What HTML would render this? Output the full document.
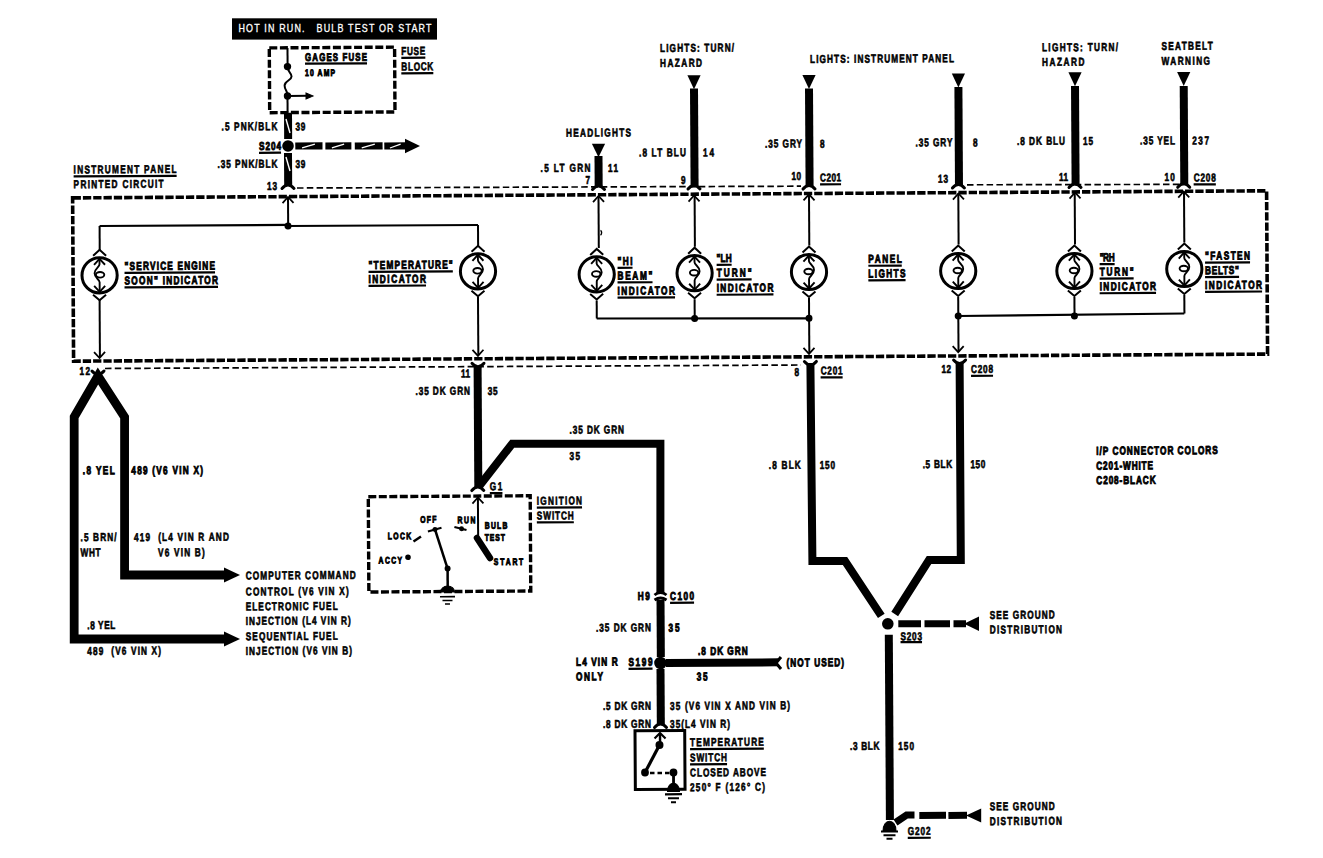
<!DOCTYPE html>
<html><head><meta charset="utf-8"><style>
html,body{margin:0;padding:0;background:#fff;}
svg{display:block;}
text{font-family:"Liberation Sans", sans-serif;white-space:pre;}
</style></head><body>
<svg width="1323" height="858" viewBox="0 0 1323 858">
<rect width="1323" height="858" fill="#fff"/>
<rect x="232" y="18.3" width="205" height="21.3" fill="#000"/><text transform="translate(238.5,32.4) scale(0.85,1)" x="0" y="0" font-size="10.5" fill="#fff" textLength="227" lengthAdjust="spacing" stroke="#fff" stroke-width="0.3">HOT IN RUN.   BULB TEST OR START</text>
<g transform="rotate(-0.34 661.5 429.0)" stroke="#000" fill="none">
<rect x="271.56" y="45.57" width="125.3" height="64.8" fill="none" stroke-width="3.4" stroke-dasharray="8 2.6"/>
<line x1="289.76" y1="45.68" x2="289.76" y2="64.38" stroke-width="2" stroke-linecap="butt" />
<line x1="289.48" y1="93.78" x2="289.48" y2="110.48" stroke-width="2" stroke-linecap="butt" />
<circle cx="289.65" cy="64.38" r="3.7" fill="#000" stroke="none"/>
<circle cx="289.48" cy="93.78" r="3.7" fill="#000" stroke="none"/>
<path transform="translate(289.65,64.38)" d="M0,0 C0,6 4,6 4,10 C4,14 -3,14 -3,19 C-3,24 0,24 0,29" fill="#fff" stroke-width="2" />
<line x1="289.65" y1="64.38" x2="289.65" y2="67.78" stroke-width="2" stroke-linecap="butt" />
<line x1="289.98" y1="93.78" x2="309.98" y2="93.78" stroke-width="2" stroke-linecap="butt" />
<path transform="translate(314.98,93.93)" d="M0,0 L-7,-3 L-7,3 Z" fill="#000" stroke-width="1" />
<text transform="translate(307.21,58.96) scale(0.72,1)" x="0" y="0" font-size="11" font-weight="bold" fill="#000" stroke="#000" stroke-width="0.9" textLength="86.11" lengthAdjust="spacing">GAGES FUSE</text>
<line x1="307.21" y1="61.56" x2="369.21" y2="61.56" stroke-width="2.2"/>
<text transform="translate(307.11,73.95) scale(0.72,1)" x="0" y="0" font-size="9.5" font-weight="bold" fill="#000" stroke="#000" stroke-width="0.9" textLength="41.67" lengthAdjust="spacing">10 AMP</text>
<text transform="translate(403.54,53.42) scale(0.72,1)" x="0" y="0" font-size="11.5" font-weight="bold" fill="#000" stroke="#000" stroke-width="0.6" textLength="33.33" lengthAdjust="spacing">FUSE</text>
<line x1="403.54" y1="56.32" x2="427.54" y2="56.32" stroke-width="2.2"/>
<text transform="translate(403.45,68.92) scale(0.72,1)" x="0" y="0" font-size="11.5" font-weight="bold" fill="#000" stroke="#000" stroke-width="0.6" textLength="44.44" lengthAdjust="spacing">BLOCK</text>
<line x1="403.45" y1="71.82" x2="435.45" y2="71.82" stroke-width="2.2"/>
<line x1="289.88" y1="110.48" x2="289.88" y2="136.78" stroke-width="8" stroke-linecap="butt" />
<circle cx="289.68" cy="143.78" r="5.8" fill="#000" stroke="none"/>
<line x1="289.64" y1="150.78" x2="289.64" y2="183.78" stroke-width="8" stroke-linecap="butt" />
<path transform="translate(289.44,183.28)" d="M-6,3 Q0,-4 6,3" fill="none" stroke-width="3" stroke-linecap="round"/>
<line x1="287.84" y1="116.77" x2="291.76" y2="130.8" stroke-width="1.4" stroke-linecap="butt" stroke="#fff"/>
<line x1="287.61" y1="154.77" x2="291.53" y2="168.8" stroke-width="1.4" stroke-linecap="butt" stroke="#fff"/>
<text transform="translate(223.3,127.85) scale(0.72,1)" x="0" y="0" font-size="11.5" font-weight="bold" fill="#000" stroke="#000" stroke-width="0.6" textLength="77.78" lengthAdjust="spacing">.5 PNK/BLK</text>
<text transform="translate(297.2,128.29) scale(0.72,1)" x="0" y="0" font-size="11.5" font-weight="bold" fill="#000" stroke="#000" stroke-width="0.6" textLength="13.89" lengthAdjust="spacing">39</text>
<text transform="translate(260.68,147.57) scale(0.72,1)" x="0" y="0" font-size="11.5" font-weight="bold" fill="#000" stroke="#000" stroke-width="0.9" textLength="30.56" lengthAdjust="spacing">S204</text>
<line x1="260.68" y1="150.47" x2="282.68" y2="150.47" stroke-width="2.2"/>
<text transform="translate(219.07,165.33) scale(0.72,1)" x="0" y="0" font-size="11.5" font-weight="bold" fill="#000" stroke="#000" stroke-width="0.6" textLength="83.33" lengthAdjust="spacing">.35 PNK/BLK</text>
<text transform="translate(296.97,165.79) scale(0.72,1)" x="0" y="0" font-size="11.5" font-weight="bold" fill="#000" stroke="#000" stroke-width="0.6" textLength="13.89" lengthAdjust="spacing">39</text>
<text transform="translate(268.44,187.62) scale(0.72,1)" x="0" y="0" font-size="11.5" font-weight="bold" fill="#000" stroke="#000" stroke-width="0.6" textLength="13.89" lengthAdjust="spacing">13</text>
<line x1="296.98" y1="143.83" x2="324.18" y2="143.83" stroke-width="7.2" stroke-linecap="butt" />
<line x1="303.77" y1="145.87" x2="316.57" y2="142.14" stroke-width="1.3" stroke-linecap="butt" stroke="#fff"/>
<line x1="327.08" y1="144.01" x2="353.08" y2="144.01" stroke-width="7.2" stroke-linecap="butt" />
<line x1="333.57" y1="146.04" x2="345.81" y2="142.32" stroke-width="1.3" stroke-linecap="butt" stroke="#fff"/>
<line x1="356.48" y1="144.18" x2="384.28" y2="144.18" stroke-width="7.2" stroke-linecap="butt" />
<line x1="363.42" y1="146.22" x2="376.51" y2="142.5" stroke-width="1.3" stroke-linecap="butt" stroke="#fff"/>
<line x1="385.98" y1="144.36" x2="408.68" y2="144.36" stroke-width="7.2" stroke-linecap="butt" />
<line x1="391.64" y1="146.39" x2="402.33" y2="142.65" stroke-width="1.3" stroke-linecap="butt" stroke="#fff"/>
<polygon points="406.72,137.28 421.68,144.57 406.64,151.68" fill="#000" stroke="none"/>
<line x1="298.43" y1="185.84" x2="802.44" y2="187.03" stroke-width="1.7" stroke-linecap="butt" stroke-dasharray="6.5 3.3"/>
<line x1="968.45" y1="186.61" x2="1185.45" y2="187.5" stroke-width="1.7" stroke-linecap="butt" stroke-dasharray="6.5 3.3"/>
<polygon points="593.59,143.29 606.79,143.37 600.11,156.83" fill="#000" stroke="none"/>
<line x1="600.12" y1="155.63" x2="600.12" y2="186.13" stroke-width="8" stroke-linecap="butt" />
<path transform="translate(599.94,186.13)" d="M-6,3 Q0,-4 6,3" fill="none" stroke-width="3" stroke-linecap="round"/>
<text transform="translate(567.76,136.19) scale(0.72,1)" x="0" y="0" font-size="11.5" font-weight="bold" fill="#000" stroke="#000" stroke-width="0.6" textLength="90.28" lengthAdjust="spacing">HEADLIGHTS</text>
<text transform="translate(542.05,171.24) scale(0.72,1)" x="0" y="0" font-size="11.5" font-weight="bold" fill="#000" stroke="#000" stroke-width="0.6" textLength="69.44" lengthAdjust="spacing">.5 LT GRN</text>
<text transform="translate(609.55,171.64) scale(0.72,1)" x="0" y="0" font-size="11.5" font-weight="bold" fill="#000" stroke="#000" stroke-width="0.6" textLength="13.89" lengthAdjust="spacing">11</text>
<text transform="translate(586.98,183.51) scale(0.72,1)" x="0" y="0" font-size="11.5" font-weight="bold" fill="#000" stroke="#000" stroke-width="0.6" textLength="6.94" lengthAdjust="spacing">7</text>
<polygon points="689.5,75.35 702.7,75.43 696.02,89.39" fill="#000" stroke="none"/>
<line x1="696.02" y1="88.69" x2="696.02" y2="186.19" stroke-width="8" stroke-linecap="butt" />
<path transform="translate(695.44,186.19)" d="M-6,3 Q0,-4 6,3" fill="none" stroke-width="3" stroke-linecap="round"/>
<text transform="translate(662.26,51.95) scale(0.72,1)" x="0" y="0" font-size="11.5" font-weight="bold" fill="#000" stroke="#000" stroke-width="0.6" textLength="102.78" lengthAdjust="spacing">LIGHTS: TURN/</text>
<text transform="translate(662.17,66.95) scale(0.72,1)" x="0" y="0" font-size="11.5" font-weight="bold" fill="#000" stroke="#000" stroke-width="0.6" textLength="58.33" lengthAdjust="spacing">HAZARD</text>
<text transform="translate(640.64,156.43) scale(0.72,1)" x="0" y="0" font-size="11.5" font-weight="bold" fill="#000" stroke="#000" stroke-width="0.6" textLength="65.28" lengthAdjust="spacing">.8 LT BLU</text>
<text transform="translate(704.64,156.81) scale(0.72,1)" x="0" y="0" font-size="11.5" font-weight="bold" fill="#000" stroke="#000" stroke-width="0.6" textLength="15.28" lengthAdjust="spacing">14</text>
<text transform="translate(682.48,184.08) scale(0.72,1)" x="0" y="0" font-size="11.5" font-weight="bold" fill="#000" stroke="#000" stroke-width="0.6" textLength="6.94" lengthAdjust="spacing">9</text>
<polygon points="804.5,75.84 817.7,75.91 811.02,89.88" fill="#000" stroke="none"/>
<line x1="811.02" y1="89.38" x2="811.02" y2="186.88" stroke-width="8" stroke-linecap="butt" />
<path transform="translate(810.44,186.88)" d="M-6,3 Q0,-4 6,3" fill="none" stroke-width="3" stroke-linecap="round"/>
<text transform="translate(812.2,63.84) scale(0.72,1)" x="0" y="0" font-size="11.5" font-weight="bold" fill="#000" stroke="#000" stroke-width="0.6" textLength="200" lengthAdjust="spacing">LIGHTS: INSTRUMENT PANEL</text>
<text transform="translate(766.69,148.27) scale(0.72,1)" x="0" y="0" font-size="11.5" font-weight="bold" fill="#000" stroke="#000" stroke-width="0.6" textLength="51.39" lengthAdjust="spacing">.35 GRY</text>
<text transform="translate(821.69,148.6) scale(0.72,1)" x="0" y="0" font-size="11.5" font-weight="bold" fill="#000" stroke="#000" stroke-width="0.6" textLength="6.94" lengthAdjust="spacing">8</text>
<text transform="translate(793,180.73) scale(0.72,1)" x="0" y="0" font-size="11.5" font-weight="bold" fill="#000" stroke="#000" stroke-width="0.6" textLength="13.19" lengthAdjust="spacing">10</text>
<text transform="translate(821.49,182.4) scale(0.72,1)" x="0" y="0" font-size="11.5" font-weight="bold" fill="#000" stroke="#000" stroke-width="0.6" textLength="29.17" lengthAdjust="spacing">C201</text>
<line x1="821.49" y1="185.3" x2="842.49" y2="185.3" stroke-width="2.2"/>
<polygon points="953.91,75.22 967.11,75.3 960.43,89.26" fill="#000" stroke="none"/>
<line x1="960.43" y1="88.76" x2="960.43" y2="186.76" stroke-width="8" stroke-linecap="butt" />
<path transform="translate(959.85,186.76)" d="M-6,3 Q0,-4 6,3" fill="none" stroke-width="3" stroke-linecap="round"/>
<text transform="translate(917.1,147.97) scale(0.72,1)" x="0" y="0" font-size="11.5" font-weight="bold" fill="#000" stroke="#000" stroke-width="0.6" textLength="51.39" lengthAdjust="spacing">.35 GRY</text>
<text transform="translate(974.7,148.31) scale(0.72,1)" x="0" y="0" font-size="11.5" font-weight="bold" fill="#000" stroke="#000" stroke-width="0.6" textLength="6.94" lengthAdjust="spacing">8</text>
<text transform="translate(939.48,184.4) scale(0.72,1)" x="0" y="0" font-size="11.5" font-weight="bold" fill="#000" stroke="#000" stroke-width="0.6" textLength="13.89" lengthAdjust="spacing">13</text>
<polygon points="1070.52,74.71 1083.72,74.79 1077.03,88.75" fill="#000" stroke="none"/>
<line x1="1077.04" y1="88.45" x2="1077.04" y2="186.95" stroke-width="8" stroke-linecap="butt" />
<path transform="translate(1076.45,186.95)" d="M-6,3 Q0,-4 6,3" fill="none" stroke-width="3" stroke-linecap="round"/>
<text transform="translate(1044.26,53.62) scale(0.72,1)" x="0" y="0" font-size="11.5" font-weight="bold" fill="#000" stroke="#000" stroke-width="0.6" textLength="105.56" lengthAdjust="spacing">LIGHTS: TURN/</text>
<text transform="translate(1044.18,68.22) scale(0.72,1)" x="0" y="0" font-size="11.5" font-weight="bold" fill="#000" stroke="#000" stroke-width="0.6" textLength="59.03" lengthAdjust="spacing">HAZARD</text>
<text transform="translate(1018.71,147.07) scale(0.72,1)" x="0" y="0" font-size="11.5" font-weight="bold" fill="#000" stroke="#000" stroke-width="0.6" textLength="66.67" lengthAdjust="spacing">.8 DK BLU</text>
<text transform="translate(1084.71,147.46) scale(0.72,1)" x="0" y="0" font-size="11.5" font-weight="bold" fill="#000" stroke="#000" stroke-width="0.6" textLength="13.89" lengthAdjust="spacing">15</text>
<text transform="translate(1060.5,183.32) scale(0.72,1)" x="0" y="0" font-size="11.5" font-weight="bold" fill="#000" stroke="#000" stroke-width="0.6" textLength="12.5" lengthAdjust="spacing">11</text>
<polygon points="1179.22,75.16 1192.42,75.24 1185.73,89.2" fill="#000" stroke="none"/>
<line x1="1185.74" y1="89.1" x2="1185.74" y2="187.4" stroke-width="8" stroke-linecap="butt" />
<path transform="translate(1185.15,187.4)" d="M-6,3 Q0,-4 6,3" fill="none" stroke-width="3" stroke-linecap="round"/>
<text transform="translate(1163.77,52.93) scale(0.72,1)" x="0" y="0" font-size="11.5" font-weight="bold" fill="#000" stroke="#000" stroke-width="0.6" textLength="71.25" lengthAdjust="spacing">SEATBELT</text>
<text transform="translate(1163.68,67.93) scale(0.72,1)" x="0" y="0" font-size="11.5" font-weight="bold" fill="#000" stroke="#000" stroke-width="0.6" textLength="67.36" lengthAdjust="spacing">WARNING</text>
<text transform="translate(1141.71,147.4) scale(0.72,1)" x="0" y="0" font-size="11.5" font-weight="bold" fill="#000" stroke="#000" stroke-width="0.6" textLength="48.61" lengthAdjust="spacing">.35 YEL</text>
<text transform="translate(1194.01,147.71) scale(0.72,1)" x="0" y="0" font-size="11.5" font-weight="bold" fill="#000" stroke="#000" stroke-width="0.6" textLength="23.19" lengthAdjust="spacing">237</text>
<text transform="translate(1166,183.94) scale(0.72,1)" x="0" y="0" font-size="11.5" font-weight="bold" fill="#000" stroke="#000" stroke-width="0.6" textLength="14.31" lengthAdjust="spacing">10</text>
<text transform="translate(1195.09,184.72) scale(0.72,1)" x="0" y="0" font-size="11.5" font-weight="bold" fill="#000" stroke="#000" stroke-width="0.6" textLength="30.83" lengthAdjust="spacing">C208</text>
<line x1="1195.09" y1="187.62" x2="1217.29" y2="187.62" stroke-width="2.2"/>
<rect x="74" y="194.4" width="1194" height="163.3" fill="none" stroke-width="3.6" stroke-dasharray="8.3 2"/>
<text transform="translate(75.14,170.07) scale(0.72,1)" x="0" y="0" font-size="11.5" font-weight="bold" fill="#000" stroke="#000" stroke-width="0.6" textLength="143.06" lengthAdjust="spacing">INSTRUMENT PANEL</text>
<line x1="75.14" y1="172.97" x2="178.14" y2="172.97" stroke-width="2.2"/>
<text transform="translate(75.05,184.77) scale(0.72,1)" x="0" y="0" font-size="11.5" font-weight="bold" fill="#000" stroke="#000" stroke-width="0.6" textLength="125" lengthAdjust="spacing">PRINTED CIRCUIT</text>
<path transform="translate(289.38,194.78)" d="M-5.5,6 L0,0 L5.5,6" fill="none" stroke-width="1.8" />
<path transform="translate(599.88,195.63)" d="M-5.5,6 L0,0 L5.5,6" fill="none" stroke-width="1.8" />
<path transform="translate(695.39,195.69)" d="M-5.5,6 L0,0 L5.5,6" fill="none" stroke-width="1.8" />
<path transform="translate(810.39,195.18)" d="M-5.5,6 L0,0 L5.5,6" fill="none" stroke-width="1.8" />
<path transform="translate(959.8,195.26)" d="M-5.5,6 L0,0 L5.5,6" fill="none" stroke-width="1.8" />
<path transform="translate(1076.4,194.95)" d="M-5.5,6 L0,0 L5.5,6" fill="none" stroke-width="1.8" />
<path transform="translate(1185.11,194.6)" d="M-5.5,6 L0,0 L5.5,6" fill="none" stroke-width="1.8" />
<circle cx="100.51" cy="271.97" r="17.6" fill="none" stroke-width="3.0"/>
<path transform="translate(100.51,271.97)" d="M0,-16 L0,-11 C0,-8 -5,-7 -5,-2 C-5,3 0,4 0,7 L0,16" fill="none" stroke-width="1.9" />
<path transform="translate(100.51,271.97)" d="M0.5,-0.5 m-4.2,0 a4.2,2.8 0 1,0 8.4,0 a4.2,2.8 0 1,0 -8.4,0" fill="none" stroke-width="1.9" />
<path transform="translate(100.51,271.97)" d="M-5.5,-10.5 L0,-16.5 L5.5,-10.5" fill="none" stroke-width="1.9" />
<path transform="translate(100.51,271.97)" d="M-5.5,10.5 L0,16.5 L5.5,10.5" fill="none" stroke-width="1.9" />
<path transform="translate(100.66,246.47)" d="M-6.5,6 L0,0 L6.5,6" fill="none" stroke-width="2" />
<path transform="translate(100.36,296.97)" d="M-6.5,-5.5 L0,0 L6.5,-5.5" fill="none" stroke-width="2" />
<circle cx="478.94" cy="270.21" r="17.6" fill="none" stroke-width="3.0"/>
<path transform="translate(478.94,270.21)" d="M0,-16 L0,-11 C0,-8 5,-7 5,-2 C5,3 0,4 0,7 L0,16" fill="none" stroke-width="1.9" />
<path transform="translate(478.94,270.21)" d="M-0.5,-0.5 m-4.2,0 a4.2,2.8 0 1,0 8.4,0 a4.2,2.8 0 1,0 -8.4,0" fill="none" stroke-width="1.9" />
<path transform="translate(478.94,270.21)" d="M-5.5,-10.5 L0,-16.5 L5.5,-10.5" fill="none" stroke-width="1.9" />
<path transform="translate(478.94,270.21)" d="M-5.5,10.5 L0,16.5 L5.5,10.5" fill="none" stroke-width="1.9" />
<path transform="translate(479.09,244.71)" d="M-6.5,6 L0,0 L6.5,6" fill="none" stroke-width="2" />
<path transform="translate(478.79,295.21)" d="M-6.5,-5.5 L0,0 L6.5,-5.5" fill="none" stroke-width="2" />
<circle cx="597.62" cy="274.02" r="17.6" fill="none" stroke-width="3.0"/>
<path transform="translate(597.62,274.02)" d="M0,-16 L0,-11 C0,-8 5,-7 5,-2 C5,3 0,4 0,7 L0,16" fill="none" stroke-width="1.9" />
<path transform="translate(597.62,274.02)" d="M-0.5,-0.5 m-4.2,0 a4.2,2.8 0 1,0 8.4,0 a4.2,2.8 0 1,0 -8.4,0" fill="none" stroke-width="1.9" />
<path transform="translate(597.62,274.02)" d="M-5.5,-10.5 L0,-16.5 L5.5,-10.5" fill="none" stroke-width="1.9" />
<path transform="translate(597.62,274.02)" d="M-5.5,10.5 L0,16.5 L5.5,10.5" fill="none" stroke-width="1.9" />
<path transform="translate(597.77,248.52)" d="M-6.5,6 L0,0 L6.5,6" fill="none" stroke-width="2" />
<path transform="translate(597.47,299.02)" d="M-6.5,-5.5 L0,0 L6.5,-5.5" fill="none" stroke-width="2" />
<circle cx="695.52" cy="273.4" r="17.6" fill="none" stroke-width="3.0"/>
<path transform="translate(695.52,273.4)" d="M0,-16 L0,-11 C0,-8 5,-7 5,-2 C5,3 0,4 0,7 L0,16" fill="none" stroke-width="1.9" />
<path transform="translate(695.52,273.4)" d="M-0.5,-0.5 m-4.2,0 a4.2,2.8 0 1,0 8.4,0 a4.2,2.8 0 1,0 -8.4,0" fill="none" stroke-width="1.9" />
<path transform="translate(695.52,273.4)" d="M-5.5,-10.5 L0,-16.5 L5.5,-10.5" fill="none" stroke-width="1.9" />
<path transform="translate(695.52,273.4)" d="M-5.5,10.5 L0,16.5 L5.5,10.5" fill="none" stroke-width="1.9" />
<path transform="translate(695.68,247.9)" d="M-6.5,6 L0,0 L6.5,6" fill="none" stroke-width="2" />
<path transform="translate(695.38,298.4)" d="M-6.5,-5.5 L0,0 L6.5,-5.5" fill="none" stroke-width="2" />
<circle cx="809.93" cy="272.88" r="17.6" fill="none" stroke-width="3.0"/>
<path transform="translate(809.93,272.88)" d="M0,-16 L0,-11 C0,-8 5,-7 5,-2 C5,3 0,4 0,7 L0,16" fill="none" stroke-width="1.9" />
<path transform="translate(809.93,272.88)" d="M-0.5,-0.5 m-4.2,0 a4.2,2.8 0 1,0 8.4,0 a4.2,2.8 0 1,0 -8.4,0" fill="none" stroke-width="1.9" />
<path transform="translate(809.93,272.88)" d="M-5.5,-10.5 L0,-16.5 L5.5,-10.5" fill="none" stroke-width="1.9" />
<path transform="translate(809.93,272.88)" d="M-5.5,10.5 L0,16.5 L5.5,10.5" fill="none" stroke-width="1.9" />
<path transform="translate(810.08,247.38)" d="M-6.5,6 L0,0 L6.5,6" fill="none" stroke-width="2" />
<path transform="translate(809.78,297.88)" d="M-6.5,-5.5 L0,0 L6.5,-5.5" fill="none" stroke-width="2" />
<circle cx="959.14" cy="272.76" r="17.6" fill="none" stroke-width="3.0"/>
<path transform="translate(959.14,272.76)" d="M0,-16 L0,-11 C0,-8 5,-7 5,-2 C5,3 0,4 0,7 L0,16" fill="none" stroke-width="1.9" />
<path transform="translate(959.14,272.76)" d="M-0.5,-0.5 m-4.2,0 a4.2,2.8 0 1,0 8.4,0 a4.2,2.8 0 1,0 -8.4,0" fill="none" stroke-width="1.9" />
<path transform="translate(959.14,272.76)" d="M-5.5,-10.5 L0,-16.5 L5.5,-10.5" fill="none" stroke-width="1.9" />
<path transform="translate(959.14,272.76)" d="M-5.5,10.5 L0,16.5 L5.5,10.5" fill="none" stroke-width="1.9" />
<path transform="translate(959.29,247.26)" d="M-6.5,6 L0,0 L6.5,6" fill="none" stroke-width="2" />
<path transform="translate(958.99,297.76)" d="M-6.5,-5.5 L0,0 L6.5,-5.5" fill="none" stroke-width="2" />
<circle cx="1075.34" cy="273.45" r="17.6" fill="none" stroke-width="3.0"/>
<path transform="translate(1075.34,273.45)" d="M0,-16 L0,-11 C0,-8 5,-7 5,-2 C5,3 0,4 0,7 L0,16" fill="none" stroke-width="1.9" />
<path transform="translate(1075.34,273.45)" d="M-0.5,-0.5 m-4.2,0 a4.2,2.8 0 1,0 8.4,0 a4.2,2.8 0 1,0 -8.4,0" fill="none" stroke-width="1.9" />
<path transform="translate(1075.34,273.45)" d="M-5.5,-10.5 L0,-16.5 L5.5,-10.5" fill="none" stroke-width="1.9" />
<path transform="translate(1075.34,273.45)" d="M-5.5,10.5 L0,16.5 L5.5,10.5" fill="none" stroke-width="1.9" />
<path transform="translate(1075.49,247.95)" d="M-6.5,6 L0,0 L6.5,6" fill="none" stroke-width="2" />
<path transform="translate(1075.19,298.45)" d="M-6.5,-5.5 L0,0 L6.5,-5.5" fill="none" stroke-width="2" />
<circle cx="1185.25" cy="272.1" r="17.6" fill="none" stroke-width="3.0"/>
<path transform="translate(1185.25,272.1)" d="M0,-16 L0,-11 C0,-8 5,-7 5,-2 C5,3 0,4 0,7 L0,16" fill="none" stroke-width="1.9" />
<path transform="translate(1185.25,272.1)" d="M-0.5,-0.5 m-4.2,0 a4.2,2.8 0 1,0 8.4,0 a4.2,2.8 0 1,0 -8.4,0" fill="none" stroke-width="1.9" />
<path transform="translate(1185.25,272.1)" d="M-5.5,-10.5 L0,-16.5 L5.5,-10.5" fill="none" stroke-width="1.9" />
<path transform="translate(1185.25,272.1)" d="M-5.5,10.5 L0,16.5 L5.5,10.5" fill="none" stroke-width="1.9" />
<path transform="translate(1185.4,246.6)" d="M-6.5,6 L0,0 L6.5,6" fill="none" stroke-width="2" />
<path transform="translate(1185.1,297.1)" d="M-6.5,-5.5 L0,0 L6.5,-5.5" fill="none" stroke-width="2" />
<line x1="100.8" y1="222.67" x2="289.2" y2="222.67" stroke-width="2.2" stroke-linecap="butt" />
<line x1="289.2" y1="223.78" x2="479.21" y2="223.91" stroke-width="2.2" stroke-linecap="butt" />
<circle cx="289.2" cy="223.78" r="3.5" fill="#000" stroke="none"/>
<line x1="289.38" y1="194.78" x2="289.38" y2="223.78" stroke-width="2" stroke-linecap="butt" />
<line x1="100.8" y1="222.67" x2="100.8" y2="246.67" stroke-width="2" stroke-linecap="butt" />
<line x1="479.21" y1="223.91" x2="479.21" y2="245.91" stroke-width="2" stroke-linecap="butt" />
<line x1="100.37" y1="296.67" x2="100.37" y2="353.67" stroke-width="2" stroke-linecap="butt" />
<path transform="translate(100.02,354.67)" d="M-5.5,-6 L0,0 L5.5,-6" fill="none" stroke-width="1.8" />
<line x1="478.78" y1="295.91" x2="478.78" y2="353.91" stroke-width="2" stroke-linecap="butt" />
<path transform="translate(478.43,354.71)" d="M-5.5,-6 L0,0 L5.5,-6" fill="none" stroke-width="1.8" />
<line x1="599.88" y1="195.63" x2="599.88" y2="247.53" stroke-width="2" stroke-linecap="butt" />
<line x1="695.99" y1="195.7" x2="695.99" y2="246.9" stroke-width="2" stroke-linecap="butt" />
<line x1="810.39" y1="195.18" x2="810.39" y2="246.38" stroke-width="2" stroke-linecap="butt" />
<line x1="959.7" y1="195.26" x2="959.7" y2="246.26" stroke-width="2" stroke-linecap="butt" />
<line x1="1076.1" y1="194.95" x2="1076.1" y2="246.95" stroke-width="2" stroke-linecap="butt" />
<line x1="1185.41" y1="194.6" x2="1185.41" y2="245.6" stroke-width="2" stroke-linecap="butt" />
<line x1="597.46" y1="300.02" x2="597.46" y2="318.12" stroke-width="2" stroke-linecap="butt" />
<line x1="597.36" y1="318.12" x2="809.66" y2="319.18" stroke-width="2.2" stroke-linecap="butt" />
<line x1="695.37" y1="299.4" x2="695.37" y2="318.7" stroke-width="2" stroke-linecap="butt" />
<circle cx="695.26" cy="318.7" r="3.5" fill="#000" stroke="none"/>
<line x1="809.78" y1="298.88" x2="809.78" y2="353.88" stroke-width="2" stroke-linecap="butt" />
<circle cx="809.66" cy="319.18" r="3.5" fill="#000" stroke="none"/>
<path transform="translate(809.45,354.68)" d="M-5.5,-6 L0,0 L5.5,-6" fill="none" stroke-width="1.8" />
<line x1="958.98" y1="298.76" x2="958.98" y2="353.26" stroke-width="2" stroke-linecap="butt" />
<circle cx="958.87" cy="317.76" r="3.5" fill="#000" stroke="none"/>
<path transform="translate(958.66,353.96)" d="M-5.5,-6 L0,0 L5.5,-6" fill="none" stroke-width="1.8" />
<line x1="1075.18" y1="299.45" x2="1075.18" y2="318.45" stroke-width="2" stroke-linecap="butt" />
<circle cx="1075.07" cy="318.45" r="3.5" fill="#000" stroke="none"/>
<line x1="1185.1" y1="298.1" x2="1185.1" y2="316.6" stroke-width="2" stroke-linecap="butt" />
<line x1="958.87" y1="317.76" x2="1184.99" y2="316.6" stroke-width="2.2" stroke-linecap="butt" />
<path transform="translate(601.66,232.44)" d="M0,-2.5 C1.8,-1.5 1.2,1.5 0,2.5" fill="none" stroke-width="1.4" />
<text transform="translate(125.47,266.77) scale(0.72,1)" x="0" y="0" font-size="11.5" font-weight="bold" fill="#000" stroke="#000" stroke-width="0.9" textLength="125.69" lengthAdjust="spacing">"SERVICE ENGINE</text>
<line x1="125.47" y1="269.67" x2="215.97" y2="269.67" stroke-width="2.2"/>
<text transform="translate(125.38,281.27) scale(0.72,1)" x="0" y="0" font-size="11.5" font-weight="bold" fill="#000" stroke="#000" stroke-width="0.9" textLength="129.86" lengthAdjust="spacing">SOON" INDICATOR</text>
<line x1="125.38" y1="284.17" x2="218.88" y2="284.17" stroke-width="2.2"/>
<text transform="translate(369.47,267.22) scale(0.72,1)" x="0" y="0" font-size="11.5" font-weight="bold" fill="#000" stroke="#000" stroke-width="0.9" textLength="117.08" lengthAdjust="spacing">"TEMPERATURE"</text>
<line x1="369.47" y1="270.12" x2="453.77" y2="270.12" stroke-width="2.2"/>
<text transform="translate(369.39,281.22) scale(0.72,1)" x="0" y="0" font-size="11.5" font-weight="bold" fill="#000" stroke="#000" stroke-width="0.9" textLength="79.86" lengthAdjust="spacing">INDICATOR</text>
<line x1="369.39" y1="284.12" x2="426.89" y2="284.12" stroke-width="2.2"/>
<text transform="translate(618.5,264.7) scale(0.72,1)" x="0" y="0" font-size="11.5" font-weight="bold" fill="#000" stroke="#000" stroke-width="0.9" textLength="20.83" lengthAdjust="spacing">"HI</text>
<line x1="618.5" y1="267.6" x2="633.5" y2="267.6" stroke-width="2.2"/>
<text transform="translate(618.41,279.3) scale(0.72,1)" x="0" y="0" font-size="11.5" font-weight="bold" fill="#000" stroke="#000" stroke-width="0.9" textLength="48.61" lengthAdjust="spacing">BEAM"</text>
<line x1="618.41" y1="282.2" x2="653.41" y2="282.2" stroke-width="2.2"/>
<text transform="translate(618.32,294.5) scale(0.72,1)" x="0" y="0" font-size="11.5" font-weight="bold" fill="#000" stroke="#000" stroke-width="0.9" textLength="79.86" lengthAdjust="spacing">INDICATOR</text>
<line x1="618.32" y1="297.4" x2="675.82" y2="297.4" stroke-width="2.2"/>
<text transform="translate(717.61,262.29) scale(0.72,1)" x="0" y="0" font-size="11.5" font-weight="bold" fill="#000" stroke="#000" stroke-width="0.9" textLength="20.83" lengthAdjust="spacing">"LH</text>
<line x1="717.61" y1="265.19" x2="732.61" y2="265.19" stroke-width="2.2"/>
<text transform="translate(717.53,276.99) scale(0.72,1)" x="0" y="0" font-size="11.5" font-weight="bold" fill="#000" stroke="#000" stroke-width="0.9" textLength="48.61" lengthAdjust="spacing">TURN"</text>
<line x1="717.53" y1="279.89" x2="752.53" y2="279.89" stroke-width="2.2"/>
<text transform="translate(717.44,292.19) scale(0.72,1)" x="0" y="0" font-size="11.5" font-weight="bold" fill="#000" stroke="#000" stroke-width="0.9" textLength="78.89" lengthAdjust="spacing">INDICATOR</text>
<line x1="717.44" y1="295.09" x2="774.24" y2="295.09" stroke-width="2.2"/>
<text transform="translate(869.31,264.09) scale(0.72,1)" x="0" y="0" font-size="11.5" font-weight="bold" fill="#000" stroke="#000" stroke-width="0.9" textLength="46.39" lengthAdjust="spacing">PANEL</text>
<line x1="869.31" y1="266.99" x2="902.71" y2="266.99" stroke-width="2.2"/>
<text transform="translate(869.22,278.69) scale(0.72,1)" x="0" y="0" font-size="11.5" font-weight="bold" fill="#000" stroke="#000" stroke-width="0.9" textLength="51.67" lengthAdjust="spacing">LIGHTS</text>
<line x1="869.22" y1="281.59" x2="906.42" y2="281.59" stroke-width="2.2"/>
<text transform="translate(1100.62,263.86) scale(0.72,1)" x="0" y="0" font-size="11.5" font-weight="bold" fill="#000" stroke="#000" stroke-width="0.9" textLength="20.83" lengthAdjust="spacing">"RH</text>
<line x1="1100.62" y1="266.76" x2="1115.62" y2="266.76" stroke-width="2.2"/>
<text transform="translate(1100.53,278.26) scale(0.72,1)" x="0" y="0" font-size="11.5" font-weight="bold" fill="#000" stroke="#000" stroke-width="0.9" textLength="47.22" lengthAdjust="spacing">TURN"</text>
<line x1="1100.53" y1="281.16" x2="1134.53" y2="281.16" stroke-width="2.2"/>
<text transform="translate(1100.45,292.96) scale(0.72,1)" x="0" y="0" font-size="11.5" font-weight="bold" fill="#000" stroke="#000" stroke-width="0.9" textLength="78.33" lengthAdjust="spacing">INDICATOR</text>
<line x1="1100.45" y1="295.86" x2="1156.85" y2="295.86" stroke-width="2.2"/>
<text transform="translate(1206.03,262.89) scale(0.72,1)" x="0" y="0" font-size="11.5" font-weight="bold" fill="#000" stroke="#000" stroke-width="0.9" textLength="62.5" lengthAdjust="spacing">"FASTEN</text>
<line x1="1206.03" y1="265.79" x2="1251.03" y2="265.79" stroke-width="2.2"/>
<text transform="translate(1205.94,277.49) scale(0.72,1)" x="0" y="0" font-size="11.5" font-weight="bold" fill="#000" stroke="#000" stroke-width="0.9" textLength="47.22" lengthAdjust="spacing">BELTS"</text>
<line x1="1205.94" y1="280.39" x2="1239.94" y2="280.39" stroke-width="2.2"/>
<text transform="translate(1205.85,292.19) scale(0.72,1)" x="0" y="0" font-size="11.5" font-weight="bold" fill="#000" stroke="#000" stroke-width="0.9" textLength="79.17" lengthAdjust="spacing">INDICATOR</text>
<line x1="1205.85" y1="295.09" x2="1262.85" y2="295.09" stroke-width="2.2"/>
<line x1="105.36" y1="365.2" x2="801.38" y2="365.83" stroke-width="1.7" stroke-linecap="butt" stroke-dasharray="6.5 3.3"/>
<text transform="translate(79.84,371.51) scale(0.72,1)" x="0" y="0" font-size="11.5" font-weight="bold" fill="#000" stroke="#000" stroke-width="0.6" textLength="14.58" lengthAdjust="spacing">12</text>
<text transform="translate(461.33,376.37) scale(0.72,1)" x="0" y="0" font-size="11.5" font-weight="bold" fill="#000" stroke="#000" stroke-width="0.6" textLength="12.5" lengthAdjust="spacing">11</text>
<text transform="translate(794.84,376.75) scale(0.72,1)" x="0" y="0" font-size="11.5" font-weight="bold" fill="#000" stroke="#000" stroke-width="0.6" textLength="6.25" lengthAdjust="spacing">8</text>
<text transform="translate(820.95,375.5) scale(0.72,1)" x="0" y="0" font-size="11.5" font-weight="bold" fill="#000" stroke="#000" stroke-width="0.6" textLength="30.56" lengthAdjust="spacing">C201</text>
<line x1="820.95" y1="378.4" x2="842.95" y2="378.4" stroke-width="2.2"/>
<text transform="translate(941.86,374.62) scale(0.72,1)" x="0" y="0" font-size="11.5" font-weight="bold" fill="#000" stroke="#000" stroke-width="0.6" textLength="13.19" lengthAdjust="spacing">12</text>
<text transform="translate(971.36,374.8) scale(0.72,1)" x="0" y="0" font-size="11.5" font-weight="bold" fill="#000" stroke="#000" stroke-width="0.6" textLength="30.56" lengthAdjust="spacing">C208</text>
<line x1="971.36" y1="377.7" x2="993.36" y2="377.7" stroke-width="2.2"/>
<polyline points="223.75,636.41 72.95,635.51 74.27,413.51 98.31,372.66 124.67,413.81 123.73,571.81 224.13,572.41" fill="none" stroke-width="8.8" stroke-linejoin="miter" stroke-linecap="butt" />
<polygon points="222.8,628.9 238.75,636.5 222.71,643.9" fill="#000" stroke="none"/>
<polygon points="223.18,564.9 239.13,572.5 223.09,579.9" fill="#000" stroke="none"/>
<path transform="translate(98.33,370.66)" d="M-6,-3 Q0,4 6,-3" fill="none" stroke-width="3" stroke-linecap="round"/>
<text transform="translate(82.55,470.93) scale(0.72,1)" x="0" y="0" font-size="11.5" font-weight="bold" fill="#000" stroke="#000" stroke-width="0.9" textLength="44.44" lengthAdjust="spacing">.8 YEL</text>
<text transform="translate(131.05,471.21) scale(0.72,1)" x="0" y="0" font-size="11.5" font-weight="bold" fill="#000" stroke="#000" stroke-width="0.9" textLength="99.44" lengthAdjust="spacing">489 (V6 VIN X)</text>
<text transform="translate(79.96,537.71) scale(0.72,1)" x="0" y="0" font-size="11.5" font-weight="bold" fill="#000" stroke="#000" stroke-width="0.6" textLength="50" lengthAdjust="spacing">.5 BRN/</text>
<text transform="translate(79.87,553.01) scale(0.72,1)" x="0" y="0" font-size="11.5" font-weight="bold" fill="#000" stroke="#000" stroke-width="0.6" textLength="27.78" lengthAdjust="spacing">WHT</text>
<text transform="translate(133.26,538.03) scale(0.72,1)" x="0" y="0" font-size="11.5" font-weight="bold" fill="#000" stroke="#000" stroke-width="0.6" textLength="131.94" lengthAdjust="spacing">419  (L4 VIN R AND</text>
<text transform="translate(157.27,553.47) scale(0.72,1)" x="0" y="0" font-size="11.5" font-weight="bold" fill="#000" stroke="#000" stroke-width="0.6" textLength="64.86" lengthAdjust="spacing">V6 VIN B)</text>
<text transform="translate(244.83,577.09) scale(0.72,1)" x="0" y="0" font-size="11.5" font-weight="bold" fill="#000" stroke="#000" stroke-width="0.6" textLength="152.78" lengthAdjust="spacing">COMPUTER COMMAND</text>
<text transform="translate(244.74,593.09) scale(0.72,1)" x="0" y="0" font-size="11.5" font-weight="bold" fill="#000" stroke="#000" stroke-width="0.6" textLength="143.06" lengthAdjust="spacing">CONTROL (V6 VIN X)</text>
<text transform="translate(244.65,607.99) scale(0.72,1)" x="0" y="0" font-size="11.5" font-weight="bold" fill="#000" stroke="#000" stroke-width="0.6" textLength="127.78" lengthAdjust="spacing">ELECTRONIC FUEL</text>
<text transform="translate(244.56,622.49) scale(0.72,1)" x="0" y="0" font-size="11.5" font-weight="bold" fill="#000" stroke="#000" stroke-width="0.6" textLength="145.83" lengthAdjust="spacing">INJECTION (L4 VIN R)</text>
<text transform="translate(244.47,637.89) scale(0.72,1)" x="0" y="0" font-size="11.5" font-weight="bold" fill="#000" stroke="#000" stroke-width="0.6" textLength="127.78" lengthAdjust="spacing">SEQUENTIAL FUEL</text>
<text transform="translate(244.38,652.49) scale(0.72,1)" x="0" y="0" font-size="11.5" font-weight="bold" fill="#000" stroke="#000" stroke-width="0.6" textLength="147.64" lengthAdjust="spacing">INJECTION (V6 VIN B)</text>
<text transform="translate(86.14,625.75) scale(0.72,1)" x="0" y="0" font-size="11.5" font-weight="bold" fill="#000" stroke="#000" stroke-width="0.6" textLength="38.89" lengthAdjust="spacing">.8 YEL</text>
<text transform="translate(85.98,651.55) scale(0.72,1)" x="0" y="0" font-size="11.5" font-weight="bold" fill="#000" stroke="#000" stroke-width="0.6" textLength="102.36" lengthAdjust="spacing">489  (V6 VIN X)</text>
<line x1="477.97" y1="364.91" x2="477.97" y2="485.91" stroke-width="8" stroke-linecap="butt" />
<path transform="translate(478.37,365.21)" d="M-6,-3 Q0,4 6,-3" fill="none" stroke-width="3" stroke-linecap="round"/>
<polyline points="478.16,485.91 512.11,442.91 660.31,443.79 659.43,591.99" fill="none" stroke-width="8" stroke-linejoin="miter" stroke-linecap="butt" />
<text transform="translate(415.63,393.5) scale(0.72,1)" x="0" y="0" font-size="11.5" font-weight="bold" fill="#000" stroke="#000" stroke-width="0.6" textLength="75.83" lengthAdjust="spacing">.35 DK GRN</text>
<text transform="translate(487.93,393.93) scale(0.72,1)" x="0" y="0" font-size="11.5" font-weight="bold" fill="#000" stroke="#000" stroke-width="0.6" textLength="13.89" lengthAdjust="spacing">35</text>
<text transform="translate(569.5,433.21) scale(0.72,1)" x="0" y="0" font-size="11.5" font-weight="bold" fill="#000" stroke="#000" stroke-width="0.6" textLength="75.69" lengthAdjust="spacing">.35 DK GRN</text>
<text transform="translate(569.34,459.41) scale(0.72,1)" x="0" y="0" font-size="11.5" font-weight="bold" fill="#000" stroke="#000" stroke-width="0.6" textLength="14.58" lengthAdjust="spacing">35</text>
<text transform="translate(489.46,489.24) scale(0.72,1)" x="0" y="0" font-size="11.5" font-weight="bold" fill="#000" stroke="#000" stroke-width="0.6" textLength="17.5" lengthAdjust="spacing">G1</text>
<line x1="489.46" y1="492.14" x2="502.06" y2="492.14" stroke-width="2.2"/>
<path transform="translate(477.45,486.41)" d="M-6,3 Q0,-4 6,3" fill="none" stroke-width="3" stroke-linecap="round"/>
<rect x="367.9" y="494.96" width="161.9" height="95.3" fill="none" stroke-width="3.4" stroke-dasharray="8 2.5"/>
<text transform="translate(536.37,504.02) scale(0.72,1)" x="0" y="0" font-size="11.5" font-weight="bold" fill="#000" stroke="#000" stroke-width="0.6" textLength="62.78" lengthAdjust="spacing">IGNITION</text>
<line x1="536.37" y1="506.92" x2="581.57" y2="506.92" stroke-width="2.2"/>
<text transform="translate(536.29,518.82) scale(0.72,1)" x="0" y="0" font-size="11.5" font-weight="bold" fill="#000" stroke="#000" stroke-width="0.6" textLength="51.39" lengthAdjust="spacing">SWITCH</text>
<line x1="536.29" y1="521.72" x2="573.29" y2="521.72" stroke-width="2.2"/>
<path transform="translate(477.49,496.41)" d="M-5.5,6 L0,0 L5.5,6" fill="none" stroke-width="1.8" />
<line x1="477.5" y1="495.91" x2="477.5" y2="535.91" stroke-width="2" stroke-linecap="butt" />
<line x1="476.35" y1="536.91" x2="489.23" y2="556.98" stroke-width="6.5" stroke-linecap="round" />
<line x1="434.11" y1="527.15" x2="446.77" y2="567.33" stroke-width="2.5" stroke-linecap="butt" />
<circle cx="446.77" cy="567.33" r="3" fill="#000" stroke="none"/>
<line x1="446.77" y1="567.33" x2="446.77" y2="590.73" stroke-width="2.5" stroke-linecap="butt" />
<line x1="427.29" y1="530.11" x2="440.91" y2="526.39" stroke-width="2.2" stroke-linecap="butt" />
<circle cx="434.4" cy="528.16" r="2.5" fill="#000" stroke="none"/>
<line x1="453.82" y1="525.77" x2="465.9" y2="528.84" stroke-width="2.2" stroke-linecap="butt" />
<circle cx="460.91" cy="527.61" r="2.5" fill="#000" stroke="none"/>
<line x1="412.83" y1="540.03" x2="420.36" y2="535.07" stroke-width="2.5" stroke-linecap="butt" />
<circle cx="407.24" cy="555.8" r="2.8" fill="#000" stroke="none"/>
<path transform="translate(446.63,590.73)" d="M-7,0 A7,6 0 0,1 7,0 Z" fill="#000" stroke-width="1" />
<line x1="439" y1="595.39" x2="454" y2="595.39" stroke-width="1.6" stroke-linecap="butt" />
<line x1="441.48" y1="599.2" x2="451.48" y2="599.2" stroke-width="1.5" stroke-linecap="butt" />
<line x1="443.96" y1="602.72" x2="448.96" y2="602.72" stroke-width="1.5" stroke-linecap="butt" />
<text transform="translate(419.76,521.24) scale(0.72,1)" x="0" y="0" font-size="9.5" font-weight="bold" fill="#000" stroke="#000" stroke-width="0.9" textLength="22.22" lengthAdjust="spacing">OFF</text>
<text transform="translate(456.86,522.06) scale(0.72,1)" x="0" y="0" font-size="9.5" font-weight="bold" fill="#000" stroke="#000" stroke-width="0.9" textLength="25" lengthAdjust="spacing">RUN</text>
<text transform="translate(484.13,527.72) scale(0.72,1)" x="0" y="0" font-size="9.5" font-weight="bold" fill="#000" stroke="#000" stroke-width="0.9" textLength="31.53" lengthAdjust="spacing">BULB</text>
<text transform="translate(484.06,539.82) scale(0.72,1)" x="0" y="0" font-size="9.5" font-weight="bold" fill="#000" stroke="#000" stroke-width="0.9" textLength="28.19" lengthAdjust="spacing">TEST</text>
<text transform="translate(387.07,537.65) scale(0.72,1)" x="0" y="0" font-size="9.5" font-weight="bold" fill="#000" stroke="#000" stroke-width="0.9" textLength="32.64" lengthAdjust="spacing">LOCK</text>
<text transform="translate(377.82,561.89) scale(0.72,1)" x="0" y="0" font-size="9.5" font-weight="bold" fill="#000" stroke="#000" stroke-width="0.9" textLength="32.5" lengthAdjust="spacing">ACCY</text>
<text transform="translate(493.01,564.07) scale(0.72,1)" x="0" y="0" font-size="9.5" font-weight="bold" fill="#000" stroke="#000" stroke-width="0.9" textLength="40.97" lengthAdjust="spacing">START</text>
<line x1="659.43" y1="591.99" x2="659.43" y2="593.99" stroke-width="8" stroke-linecap="butt" />
<path transform="translate(659.51,595.99)" d="M-6,-1 Q0,-6 6,-1" fill="none" stroke-width="2.8" />
<path transform="translate(659.51,595.99)" d="M-6,4 Q0,0 6,4" fill="none" stroke-width="2.8" />
<line x1="659.49" y1="599.99" x2="659.49" y2="656.99" stroke-width="8" stroke-linecap="butt" />
<circle cx="659.11" cy="662.99" r="6.3" fill="#000" stroke="none"/>
<line x1="659.08" y1="668.99" x2="659.08" y2="723.99" stroke-width="8" stroke-linecap="butt" />
<path transform="translate(658.75,724.49)" d="M-6,3 Q0,-4 6,3" fill="none" stroke-width="3" stroke-linecap="round"/>
<line x1="664.61" y1="663.03" x2="776.61" y2="663.03" stroke-width="8" stroke-linecap="butt" />
<path transform="translate(779.61,663.71)" d="M0,-6 L-5,0 L0,6" fill="none" stroke-width="3" />
<text transform="translate(636.81,599.82) scale(0.72,1)" x="0" y="0" font-size="11.5" font-weight="bold" fill="#000" stroke="#000" stroke-width="0.9" textLength="16.67" lengthAdjust="spacing">H9</text>
<text transform="translate(669.01,600.01) scale(0.72,1)" x="0" y="0" font-size="11.5" font-weight="bold" fill="#000" stroke="#000" stroke-width="0.9" textLength="33.33" lengthAdjust="spacing">C100</text>
<line x1="669.01" y1="602.91" x2="693.01" y2="602.91" stroke-width="2.2"/>
<text transform="translate(594.82,631.27) scale(0.72,1)" x="0" y="0" font-size="11.5" font-weight="bold" fill="#000" stroke="#000" stroke-width="0.6" textLength="76.39" lengthAdjust="spacing">.35 DK GRN</text>
<text transform="translate(667.42,631.7) scale(0.72,1)" x="0" y="0" font-size="11.5" font-weight="bold" fill="#000" stroke="#000" stroke-width="0.9" textLength="15.28" lengthAdjust="spacing">35</text>
<text transform="translate(696.68,655.18) scale(0.72,1)" x="0" y="0" font-size="11.5" font-weight="bold" fill="#000" stroke="#000" stroke-width="0.9" textLength="69.03" lengthAdjust="spacing">.8 DK GRN</text>
<text transform="translate(695.23,680.67) scale(0.72,1)" x="0" y="0" font-size="11.5" font-weight="bold" fill="#000" stroke="#000" stroke-width="0.9" textLength="15.28" lengthAdjust="spacing">35</text>
<text transform="translate(785.11,667.3) scale(0.72,1)" x="0" y="0" font-size="11.5" font-weight="bold" fill="#000" stroke="#000" stroke-width="0.9" textLength="79.86" lengthAdjust="spacing">(NOT USED)</text>
<text transform="translate(574.62,665.25) scale(0.72,1)" x="0" y="0" font-size="11.5" font-weight="bold" fill="#000" stroke="#000" stroke-width="0.9" textLength="57.78" lengthAdjust="spacing">L4 VIN R</text>
<text transform="translate(627.12,665.76) scale(0.72,1)" x="0" y="0" font-size="11.5" font-weight="bold" fill="#000" stroke="#000" stroke-width="0.9" textLength="33.33" lengthAdjust="spacing">S199</text>
<line x1="627.12" y1="668.66" x2="651.12" y2="668.66" stroke-width="2.2"/>
<text transform="translate(574.53,679.95) scale(0.72,1)" x="0" y="0" font-size="11.5" font-weight="bold" fill="#000" stroke="#000" stroke-width="0.9" textLength="37.5" lengthAdjust="spacing">ONLY</text>
<text transform="translate(601.36,709.61) scale(0.72,1)" x="0" y="0" font-size="11.5" font-weight="bold" fill="#000" stroke="#000" stroke-width="0.6" textLength="66.67" lengthAdjust="spacing">.5 DK GRN</text>
<text transform="translate(668.36,710.01) scale(0.72,1)" x="0" y="0" font-size="11.5" font-weight="bold" fill="#000" stroke="#000" stroke-width="0.6" textLength="166.67" lengthAdjust="spacing">35 (V6 VIN X AND VIN B)</text>
<text transform="translate(601.25,727.61) scale(0.72,1)" x="0" y="0" font-size="11.5" font-weight="bold" fill="#000" stroke="#000" stroke-width="0.6" textLength="66.67" lengthAdjust="spacing">.8 DK GRN</text>
<text transform="translate(668.25,728.01) scale(0.72,1)" x="0" y="0" font-size="11.5" font-weight="bold" fill="#000" stroke="#000" stroke-width="0.6" textLength="83.33" lengthAdjust="spacing">35(L4 VIN R)</text>
<rect x="633.21" y="730.54" width="49.7" height="58.9" fill="none" stroke-width="3"/>
<path transform="translate(658.2,732.99)" d="M-5.5,5.5 L0,0 L5.5,5.5" fill="none" stroke-width="2.2" />
<line x1="658.2" y1="732.99" x2="658.2" y2="744.99" stroke-width="2.4" stroke-linecap="butt" />
<circle cx="657.62" cy="744.99" r="4" fill="#000" stroke="none"/>
<line x1="657.62" y1="744.99" x2="642.96" y2="772.4" stroke-width="3.2" stroke-linecap="butt" />
<circle cx="642.96" cy="772.4" r="3.9" fill="#000" stroke="none"/>
<line x1="647.96" y1="772.93" x2="667.96" y2="773.05" stroke-width="2.6" stroke-linecap="butt" stroke-dasharray="4.5 3"/>
<circle cx="671.46" cy="772.57" r="3.9" fill="#000" stroke="none"/>
<line x1="671.46" y1="772.57" x2="671.46" y2="786.07" stroke-width="2.8" stroke-linecap="butt" />
<path transform="translate(671.35,791.57)" d="M-6,0 C-6,-11 6,-11 6,0 Z" fill="#000" stroke-width="1" />
<line x1="662.83" y1="794.32" x2="679.83" y2="794.32" stroke-width="2.2" stroke-linecap="butt" />
<line x1="665.81" y1="798.24" x2="676.81" y2="798.24" stroke-width="2" stroke-linecap="butt" />
<line x1="668.78" y1="802.36" x2="673.78" y2="802.36" stroke-width="2" stroke-linecap="butt" />
<text transform="translate(688.14,746.33) scale(0.72,1)" x="0" y="0" font-size="11.5" font-weight="bold" fill="#000" stroke="#000" stroke-width="0.6" textLength="102.5" lengthAdjust="spacing">TEMPERATURE</text>
<line x1="688.14" y1="749.23" x2="761.94" y2="749.23" stroke-width="2.2"/>
<text transform="translate(688.05,761.63) scale(0.72,1)" x="0" y="0" font-size="11.5" font-weight="bold" fill="#000" stroke="#000" stroke-width="0.6" textLength="51.39" lengthAdjust="spacing">SWITCH</text>
<line x1="688.05" y1="764.53" x2="725.05" y2="764.53" stroke-width="2.2"/>
<text transform="translate(687.96,776.63) scale(0.72,1)" x="0" y="0" font-size="11.5" font-weight="bold" fill="#000" stroke="#000" stroke-width="0.6" textLength="105.56" lengthAdjust="spacing">CLOSED ABOVE</text>
<text transform="translate(687.87,791.33) scale(0.72,1)" x="0" y="0" font-size="11.5" font-weight="bold" fill="#000" stroke="#000" stroke-width="0.6" textLength="104.17" lengthAdjust="spacing">250° F (126° C)</text>
<polyline points="810.79,363.88 811.62,561.9 844.22,562.09 880.19,617.2" fill="none" stroke-width="8" stroke-linejoin="miter" stroke-linecap="butt" />
<polyline points="960,363.77 960.02,561.78 928.22,561.59 893.6,615.38" fill="none" stroke-width="8" stroke-linejoin="miter" stroke-linecap="butt" />
<path transform="translate(810.78,365.38)" d="M-6,-3 Q0,4 6,-3" fill="none" stroke-width="3" stroke-linecap="round"/>
<path transform="translate(959.99,364.77)" d="M-6,-3 Q0,4 6,-3" fill="none" stroke-width="3" stroke-linecap="round"/>
<text transform="translate(768.59,469.6) scale(0.72,1)" x="0" y="0" font-size="11.5" font-weight="bold" fill="#000" stroke="#000" stroke-width="0.6" textLength="44.44" lengthAdjust="spacing">.8 BLK</text>
<text transform="translate(819.49,469.9) scale(0.72,1)" x="0" y="0" font-size="11.5" font-weight="bold" fill="#000" stroke="#000" stroke-width="0.6" textLength="21.25" lengthAdjust="spacing">150</text>
<text transform="translate(922.39,469.71) scale(0.72,1)" x="0" y="0" font-size="11.5" font-weight="bold" fill="#000" stroke="#000" stroke-width="0.6" textLength="41.25" lengthAdjust="spacing">.5 BLK</text>
<text transform="translate(970.19,469.99) scale(0.72,1)" x="0" y="0" font-size="11.5" font-weight="bold" fill="#000" stroke="#000" stroke-width="0.6" textLength="20.83" lengthAdjust="spacing">150</text>
<circle cx="886.64" cy="625.14" r="5.8" fill="#000" stroke="none"/>
<line x1="897.14" y1="625.21" x2="919.84" y2="625.21" stroke-width="7" stroke-linecap="butt" />
<line x1="923.34" y1="625.36" x2="948.84" y2="625.36" stroke-width="7" stroke-linecap="butt" />
<line x1="952.34" y1="625.53" x2="964.84" y2="625.53" stroke-width="7" stroke-linecap="butt" />
<polygon points="962.84,625.6 977.89,618.38 977.8,632.88" fill="#000" stroke="none"/>
<text transform="translate(899.27,641.78) scale(0.72,1)" x="0" y="0" font-size="11.5" font-weight="bold" fill="#000" stroke="#000" stroke-width="0.6" textLength="29.86" lengthAdjust="spacing">S203</text>
<line x1="899.27" y1="643.58" x2="920.77" y2="643.58" stroke-width="2.2"/>
<text transform="translate(988.6,620.91) scale(0.72,1)" x="0" y="0" font-size="11.5" font-weight="bold" fill="#000" stroke="#000" stroke-width="0.6" textLength="90.28" lengthAdjust="spacing">SEE GROUND</text>
<text transform="translate(988.51,635.51) scale(0.72,1)" x="0" y="0" font-size="11.5" font-weight="bold" fill="#000" stroke="#000" stroke-width="0.6" textLength="100.42" lengthAdjust="spacing">DISTRIBUTION</text>
<line x1="887.58" y1="636.05" x2="887.58" y2="821.35" stroke-width="8" stroke-linecap="butt" />
<text transform="translate(848.02,751.08) scale(0.72,1)" x="0" y="0" font-size="11.5" font-weight="bold" fill="#000" stroke="#000" stroke-width="0.6" textLength="41.11" lengthAdjust="spacing">.3 BLK</text>
<text transform="translate(896.42,751.37) scale(0.72,1)" x="0" y="0" font-size="11.5" font-weight="bold" fill="#000" stroke="#000" stroke-width="0.6" textLength="21.81" lengthAdjust="spacing">150</text>
<path transform="translate(887.11,832.35)" d="M-6.5,0 C-6.5,-13 6.5,-13 6.5,0 Z" fill="#000" stroke-width="1" />
<line x1="878.61" y1="832.8" x2="895.61" y2="832.8" stroke-width="2" stroke-linecap="butt" />
<line x1="881.09" y1="836.52" x2="893.09" y2="836.52" stroke-width="2" stroke-linecap="butt" />
<line x1="884.07" y1="840.14" x2="890.07" y2="840.14" stroke-width="2" stroke-linecap="butt" />
<polyline points="893.16,823.89 904.31,816.45 912.21,816.5" fill="none" stroke-width="7" stroke-linejoin="miter" stroke-linecap="butt" />
<line x1="917.01" y1="816.93" x2="943.71" y2="816.93" stroke-width="7" stroke-linecap="butt" />
<line x1="946.11" y1="817.1" x2="964.71" y2="817.1" stroke-width="7" stroke-linecap="butt" />
<polygon points="963.71,817.21 978.95,810.3 978.87,824.3" fill="#000" stroke="none"/>
<text transform="translate(905.31,836.42) scale(0.72,1)" x="0" y="0" font-size="11.5" font-weight="bold" fill="#000" stroke="#000" stroke-width="0.6" textLength="31.94" lengthAdjust="spacing">G202</text>
<line x1="905.31" y1="839.32" x2="928.31" y2="839.32" stroke-width="2.2"/>
<text transform="translate(987.46,812.31) scale(0.72,1)" x="0" y="0" font-size="11.5" font-weight="bold" fill="#000" stroke="#000" stroke-width="0.6" textLength="90.28" lengthAdjust="spacing">SEE GROUND</text>
<text transform="translate(987.37,827.11) scale(0.72,1)" x="0" y="0" font-size="11.5" font-weight="bold" fill="#000" stroke="#000" stroke-width="0.6" textLength="100.42" lengthAdjust="spacing">DISTRIBUTION</text>
<text transform="translate(1096.17,457.34) scale(0.72,1)" x="0" y="0" font-size="11.5" font-weight="bold" fill="#000" stroke="#000" stroke-width="0.9" textLength="168.75" lengthAdjust="spacing">I/P CONNECTOR COLORS</text>
<text transform="translate(1096.08,472.24) scale(0.72,1)" x="0" y="0" font-size="11.5" font-weight="bold" fill="#000" stroke="#000" stroke-width="0.9" textLength="78.75" lengthAdjust="spacing">C201-WHITE</text>
<text transform="translate(1096,486.74) scale(0.72,1)" x="0" y="0" font-size="11.5" font-weight="bold" fill="#000" stroke="#000" stroke-width="0.9" textLength="82.36" lengthAdjust="spacing">C208-BLACK</text>
</g>
</svg>
</body></html>
